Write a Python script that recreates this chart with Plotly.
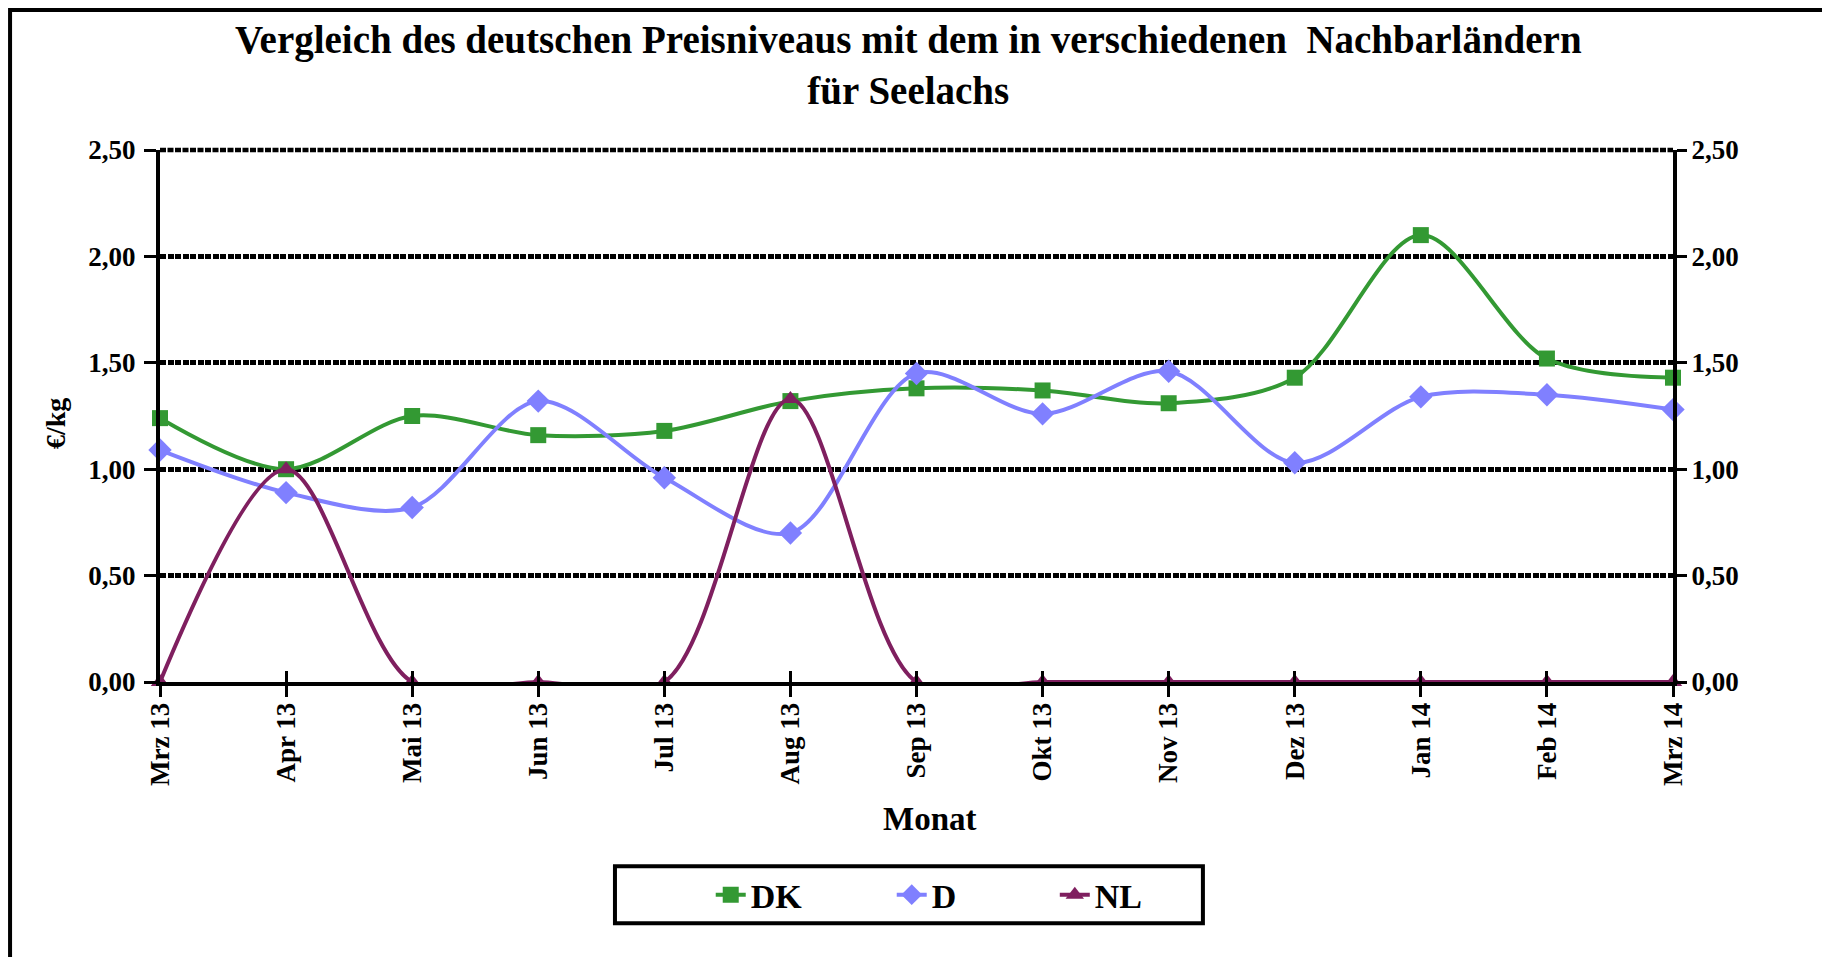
import plotly.graph_objects as go

months = ["Mrz 13", "Apr 13", "Mai 13", "Jun 13", "Jul 13", "Aug 13", "Sep 13",
          "Okt 13", "Nov 13", "Dez 13", "Jan 14", "Feb 14", "Mrz 14"]
dk = [1.24, 1.00, 1.25, 1.16, 1.18, 1.32, 1.38, 1.37, 1.31, 1.43, 2.10, 1.52, 1.43]
d = [1.09, 0.89, 0.82, 1.32, 0.96, 0.70, 1.45, 1.26, 1.46, 1.03, 1.34, 1.35, 1.28]
nl = [0.00, 1.00, 0.00, 0.00, 0.00, 1.33, 0.00, 0.00, 0.00, 0.00, 0.00, 0.00, 0.00]
y_ticks = [0, 0.5, 1.0, 1.5, 2.0, 2.5]
series_names = ["DK", "D", "NL"]

FONT = "Liberation Serif"
GREEN = "#339933"
BLUE = "#8080FF"
PLUM = "#7F1F5F"
PAD = "\u00a0" * 10

fig = go.Figure()
fig.add_trace(go.Scatter(x=months, y=dk, name=series_names[0] + PAD, mode="lines+markers",
                         line=dict(color=GREEN, width=4, shape="spline", smoothing=0.9),
                         marker=dict(symbol="square", size=16, color=GREEN),
                         cliponaxis=False))
fig.add_trace(go.Scatter(x=months, y=d, name=series_names[1] + PAD + "\u00a0", mode="lines+markers",
                         line=dict(color=BLUE, width=4, shape="spline", smoothing=0.9),
                         marker=dict(symbol="diamond", size=18, color=BLUE),
                         cliponaxis=False))
fig.add_trace(go.Scatter(x=months, y=nl, name=series_names[2], mode="lines+markers",
                         line=dict(color=PLUM, width=4, shape="spline", smoothing=0.9),
                         marker=dict(symbol="triangle-up", size=16, color=PLUM),
                         cliponaxis=False))
# invisible helper trace for the secondary (right / cross-tick) axes
fig.add_trace(go.Scatter(x=months, y=dk, xaxis="x2", yaxis="y2", mode="lines",
                         line=dict(color="rgba(0,0,0,0)"), showlegend=False,
                         hoverinfo="skip"))

tickfont = dict(family=FONT, size=27, color="black", weight="bold")
GRID_DASH = "6px,1.5px"

fig.update_layout(
    width=1830, height=957,
    paper_bgcolor="white", plot_bgcolor="white",
    margin=dict(l=152, r=165, t=142, b=283),
    separators=",.",
    showlegend=True,
    legend=dict(orientation="h", x=0.364, xanchor="left", y=-0.346, yanchor="top",
                borderwidth=0, bgcolor="rgba(0,0,0,0)",
                font=dict(family=FONT, size=34, color="black", weight="bold"),
                itemsizing="trace"),
    xaxis=dict(type="category", range=[0, 12], showgrid=False, zeroline=False,
               showline=True, linecolor="black", linewidth=4,
               ticks="outside", ticklen=11, tickwidth=3, tickcolor="black",
               tickangle=-90, tickfont=tickfont, ticklabelstandoff=-5),
    xaxis2=dict(type="category", range=[0, 12], overlaying="x", side="bottom",
                showgrid=False, zeroline=False, showline=False,
                ticks="inside", ticklen=11, tickwidth=3, tickcolor="black",
                showticklabels=False),
    yaxis=dict(range=[0, 2.5], tickvals=y_ticks, tickformat=".2f",
               showgrid=True, gridcolor="black", gridwidth=4.5, griddash=GRID_DASH,
               zeroline=False, showline=True, linecolor="black", linewidth=4,
               ticks="outside", ticklen=12, tickwidth=3, tickcolor="black",
               tickfont=tickfont, ticklabelstandoff=3),
    yaxis2=dict(range=[0, 2.5], tickvals=y_ticks, tickformat=".2f",
                overlaying="y", side="right", showgrid=False, zeroline=False,
                showline=True, linecolor="black", linewidth=4,
                ticks="outside", ticklen=10, tickwidth=3, tickcolor="black",
                tickfont=tickfont, ticklabelstandoff=-1),
    hovermode=False,
)

# top gridline (plotly drops grid lines at the range edge)
fig.add_shape(type="line", xref="paper", yref="paper", x0=0, x1=1, y0=1, y1=1,
              line=dict(color="black", width=4.5, dash=GRID_DASH), layer="below")

fig.add_annotation(text="Vergleich des deutschen Preisniveaus mit dem in verschiedenen  Nachbarländern<br>für Seelachs",
                   xref="paper", yref="paper", x=0.4948, y=1.16, xanchor="center", yanchor="middle",
                   showarrow=False,
                   font=dict(family=FONT, size=39, color="black", weight="bold"))
fig.add_annotation(text="Monat", xref="paper", yref="paper", x=0.509, y=-0.2575,
                   xanchor="center", yanchor="middle", showarrow=False,
                   font=dict(family=FONT, size=33, color="black", weight="bold"))
fig.add_annotation(text="€/kg", xref="paper", yref="paper", x=-0.0687, y=0.485,
                   xanchor="center", yanchor="middle", showarrow=False, textangle=-90,
                   font=dict(family=FONT, size=28, color="black", weight="bold"))

# legend box
fig.add_shape(type="rect", xref="paper", yref="paper",
              x0=0.3007, x1=0.6893, y0=-0.4534, y1=-0.3462,
              line=dict(color="black", width=4), fillcolor="rgba(0,0,0,0)", layer="above")

# outer chart frame
fig.add_shape(type="rect", xref="paper", yref="paper",
              x0=-0.0991, x1=1.2, y0=-0.6, y1=1.263,
              line=dict(color="black", width=4), layer="below")

fig.write_html("out.html")
